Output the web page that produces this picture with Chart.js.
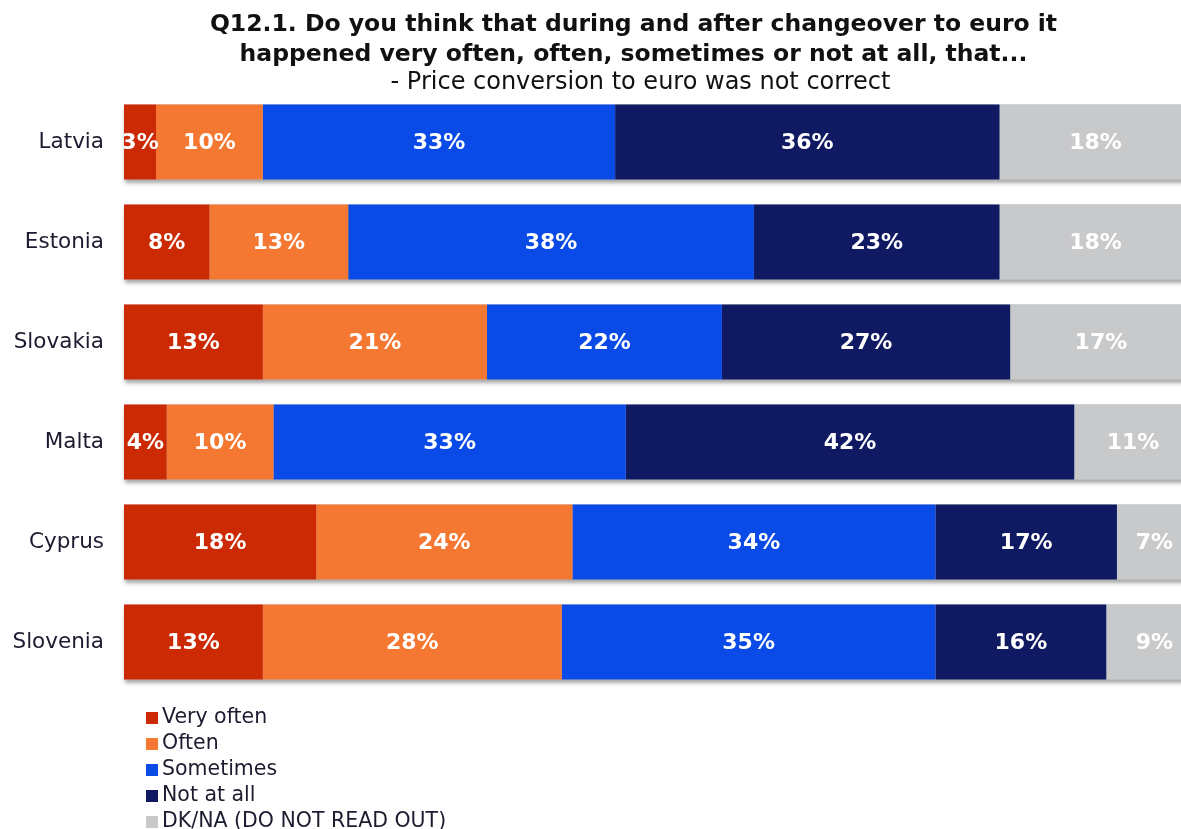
<!DOCTYPE html>
<html lang="en">
<head>
    <meta charset="UTF-8">
    <title>Q12.1 Price conversion to euro</title>
    <script src="https://cdn.jsdelivr.net/npm/chart.js"></script>
    <style>
        body { margin: 0; background: #fff; font-family: "DejaVu Sans", Verdana, sans-serif; overflow: hidden; }
        #wrap { position: relative; width: 1181px; height: 829px; }
        #chart { position: absolute; left: 0; top: 0; }
        .title { position: absolute; left: 0; width: 1181px; text-align: center; color: #111; white-space: nowrap; }
        .t1 { font-weight: bold; font-size: 23.5px; }
        .t2 { font-size: 24px; }
        #legend { position: absolute; left: 146px; top: 703px; font-size: 20.5px; color: #1c1c30; }
        #legend div { height: 26px; line-height: 26px; white-space: nowrap; }
        #legend span { display: inline-block; width: 12px; height: 12px; margin-right: 4px; vertical-align: -1px; }
    </style>
</head>
<body>
<div id="wrap">
    <canvas id="chart" width="1181" height="829"></canvas>
    <div class="title t1" style="top: 9px; left: 43px;">Q12.1. Do you think that during and after changeover to euro it</div>
    <div class="title t1" style="top: 39px; left: 43px;">happened very often, often, sometimes or not at all, that...</div>
    <div class="title t2" style="top: 67px; left: 50px;">- Price conversion to euro was not correct</div>
    <div id="legend"></div>
</div>

<script>
    const countries = ["Latvia", "Estonia", "Slovakia", "Malta", "Cyprus", "Slovenia"];
    const veryOften = [3, 8, 13, 4, 18, 13];
    const often     = [10, 13, 21, 10, 24, 28];
    const sometimes = [33, 38, 22, 33, 34, 35];
    const notAtAll  = [36, 23, 27, 42, 17, 16];
    const dkna      = [18, 18, 17, 11, 7, 9];

    const seriesNames  = ["Very often", "Often", "Sometimes", "Not at all", "DK/NA (DO NOT READ OUT)"];
    const seriesValues = [veryOften, often, sometimes, notAtAll, dkna];
    const seriesColors = ["#CB2A05", "#F47832", "#0A4AE6", "#0F1A62", "#C8C9CB"];

    // grey drop shadow under each whole bar
    const barShadow = {
        id: "barShadow",
        beforeDatasetsDraw(chart) {
            const ctx = chart.ctx;
            const first = chart.getDatasetMeta(0).data;
            const last = chart.getDatasetMeta(chart.data.datasets.length - 1).data;
            ctx.save();
            ctx.shadowColor = "rgba(0,0,0,0.35)";
            ctx.shadowBlur = 4;
            ctx.shadowOffsetX = 1;
            ctx.shadowOffsetY = 3;
            ctx.fillStyle = "#bbb";
            first.forEach((bar, i) => {
                const end = last[i];
                ctx.fillRect(bar.base, bar.y - bar.height / 2, end.x - bar.base, bar.height);
            });
            ctx.restore();
        }
    };

    // white percentage in the middle of every segment
    const segmentLabels = {
        id: "segmentLabels",
        afterDatasetsDraw(chart) {
            const ctx = chart.ctx;
            const area = chart.chartArea;
            ctx.save();
            ctx.beginPath();
            ctx.rect(area.left, area.top, area.right - area.left, area.bottom - area.top);
            ctx.clip();
            ctx.font = "bold 22px 'DejaVu Sans'";
            ctx.fillStyle = "#fff";
            ctx.textAlign = "center";
            ctx.textBaseline = "middle";
            chart.data.datasets.forEach((ds, d) => {
                chart.getDatasetMeta(d).data.forEach((bar, i) => {
                    ctx.fillText(ds.data[i] + "%", (bar.x + bar.base) / 2, bar.y + 1);
                });
            });
            ctx.restore();
        }
    };

    const chart = new Chart(document.getElementById("chart"), {
        type: "bar",
        data: {
            labels: countries,
            datasets: seriesNames.map((name, i) => ({
                label: name,
                data: seriesValues[i],
                backgroundColor: seriesColors[i],
                borderWidth: 0,
                barPercentage: 0.75,
                categoryPercentage: 1
            }))
        },
        options: {
            indexAxis: "y",
            responsive: false,
            animation: false,
            layout: { padding: { top: 92, bottom: 137, left: 0, right: 0 } },
            plugins: {
                legend: { display: false },
                tooltip: { enabled: false }
            },
            scales: {
                x: { stacked: true, min: 0, max: 99, display: false },
                y: {
                    stacked: true,
                    grid: { display: false },
                    border: { display: false },
                    ticks: { font: { family: "DejaVu Sans", size: 21.5 }, color: "#1c1c30", padding: 12 },
                    afterFit(scale) { scale.width = 124; }
                }
            }
        },
        plugins: [barShadow, segmentLabels]
    });

    // legend as a vertical list under the bars
    const legend = document.getElementById("legend");
    chart.data.datasets.forEach(ds => {
        const row = document.createElement("div");
        row.innerHTML = `<span style="background:${ds.backgroundColor}"></span>${ds.label}`;
        legend.appendChild(row);
    });
</script>
</body>
</html>
